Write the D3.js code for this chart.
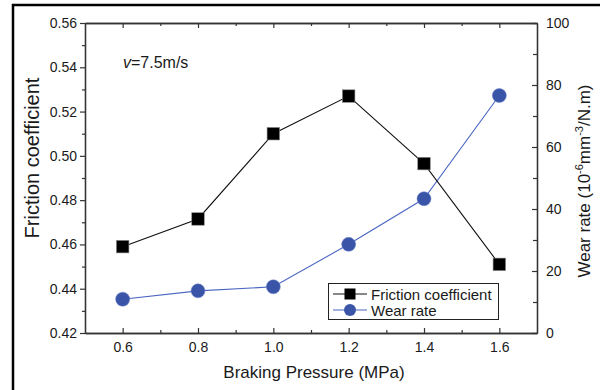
<!DOCTYPE html>
<html><head><meta charset="utf-8">
<script src="https://cdn.jsdelivr.net/npm/d3@7"></script>
<style>
html,body{margin:0;padding:0;background:#fff;}
svg{display:block;font-family:"Liberation Sans",Arial,sans-serif;}
</style></head>
<body>
<svg id="chart" width="600" height="390"></svg>
<script>
const pressure = [0.6, 0.8, 1.0, 1.2, 1.4, 1.6];
const friction = [0.459, 0.4715, 0.510, 0.527, 0.4965, 0.451];
const wearRate = [10.9, 13.6, 14.9, 28.6, 43.3, 76.6];
const xTicks = [0.6, 0.8, 1.0, 1.2, 1.4, 1.6];
const xMinor = [0.7, 0.9, 1.1, 1.3, 1.5];
const yLeftTicks = [0.42, 0.44, 0.46, 0.48, 0.50, 0.52, 0.54, 0.56];
const yLeftMinor = [0.43, 0.45, 0.47, 0.49, 0.51, 0.53, 0.55];
const yRightTicks = [0, 20, 40, 60, 80, 100];
const yRightMinor = [10, 30, 50, 70, 90];
const seriesNames = ["Friction coefficient", "Wear rate"];

const svg = d3.select("#chart");
const L = 85, R = 537, T = 23, B = 333;
const x = d3.scaleLinear().domain([0.5, 1.7]).range([L, R]);
const yL = d3.scaleLinear().domain([0.42, 0.56]).range([B, T]);
const yR = d3.scaleLinear().domain([0, 100]).range([B, T]);

const axisColor = "#333";
const labelColor = "#1a1a1a";

// outer frame lines
svg.append("line").attr("x1", 13).attr("x2", 13).attr("y1", 4).attr("y2", 390)
  .attr("stroke", "#000").attr("stroke-width", 2.5);
svg.append("line").attr("x1", 12).attr("x2", 600).attr("y1", 5).attr("y2", 5)
  .attr("stroke", "#000").attr("stroke-width", 2.5);

function styleAxis(g, fs) {
  g.selectAll(".domain").attr("stroke", axisColor).attr("stroke-width", 1.3);
  g.selectAll(".tick line").attr("stroke", axisColor).attr("stroke-width", 1.2);
  g.selectAll(".tick text").attr("fill", labelColor).style("font-size", fs + "px")
    .style("font-family", "Liberation Sans, Arial, sans-serif");
}

// bottom
const gB = svg.append("g").attr("transform", `translate(0,${B})`)
  .call(d3.axisBottom(x).tickValues(xTicks).tickFormat(d3.format(".1f")).tickSize(-5).tickSizeOuter(0).tickPadding(9));
styleAxis(gB, 14);
const gBm = svg.append("g").attr("transform", `translate(0,${B})`)
  .call(d3.axisBottom(x).tickValues(xMinor).tickFormat("").tickSize(-3).tickSizeOuter(0));
styleAxis(gBm, 14);
// top
const gT = svg.append("g").attr("transform", `translate(0,${T})`)
  .call(d3.axisTop(x).tickValues(xTicks).tickFormat("").tickSize(-5).tickSizeOuter(0));
styleAxis(gT, 14);
const gTm = svg.append("g").attr("transform", `translate(0,${T})`)
  .call(d3.axisTop(x).tickValues(xMinor).tickFormat("").tickSize(-3).tickSizeOuter(0));
styleAxis(gTm, 14);
// left (ticks outward)
const gL = svg.append("g").attr("transform", `translate(${L},0)`)
  .call(d3.axisLeft(yL).tickValues(yLeftTicks).tickFormat(d3.format(".2f")).tickSize(5).tickSizeOuter(0).tickPadding(3));
styleAxis(gL, 14);
const gLm = svg.append("g").attr("transform", `translate(${L},0)`)
  .call(d3.axisLeft(yL).tickValues(yLeftMinor).tickFormat("").tickSize(3).tickSizeOuter(0));
styleAxis(gLm, 14);
// right (ticks inward)
const gR = svg.append("g").attr("transform", `translate(${R},0)`)
  .call(d3.axisRight(yR).tickValues(yRightTicks).tickFormat(d3.format("d")).tickSize(-5).tickSizeOuter(0).tickPadding(9));
styleAxis(gR, 14);
const gRm = svg.append("g").attr("transform", `translate(${R},0)`)
  .call(d3.axisRight(yR).tickValues(yRightMinor).tickFormat("").tickSize(-4).tickSizeOuter(0));
styleAxis(gRm, 14);

// titles
svg.append("text").attr("x", (L + R) / 2 + 3).attr("y", 378).attr("text-anchor", "middle")
  .style("font-size", "17px").attr("fill", labelColor).text("Braking Pressure (MPa)");
svg.append("text").attr("transform", `translate(39,${(T + B) / 2 - 20}) rotate(-90)`).attr("text-anchor", "middle")
  .style("font-size", "20px").attr("fill", labelColor).text("Friction coefficient");
const rt = svg.append("text").attr("transform", `translate(590,${(T + B) / 2 + 3}) rotate(-90)`).attr("text-anchor", "middle")
  .style("font-size", "17px").attr("fill", labelColor);
rt.append("tspan").text("Wear rate (10");
rt.append("tspan").attr("dy", -7).style("font-size", "11px").text("-6");
rt.append("tspan").attr("dy", 7).text("mm");
rt.append("tspan").attr("dy", -7).style("font-size", "11px").text("-3");
rt.append("tspan").attr("dy", 7).text("/N.m)");

// annotation
const ann = svg.append("text").attr("x", 123).attr("y", 68).style("font-size", "16px").attr("fill", labelColor);
ann.append("tspan").style("font-style", "italic").text("v");
ann.append("tspan").text("=7.5m/s");

// series
const fData = pressure.map((p, i) => ({ p, v: friction[i] }));
const wData = pressure.map((p, i) => ({ p, v: wearRate[i] }));
const blackLine = "#111";
const blueLine = "#4a66c2";
const blueFill = "#3a55a8";

svg.append("path").datum(wData).attr("fill", "none").attr("stroke", blueLine).attr("stroke-width", 1.1)
  .attr("d", d3.line().x(d => x(d.p)).y(d => yR(d.v)));
svg.append("path").datum(fData).attr("fill", "none").attr("stroke", blackLine).attr("stroke-width", 1.1)
  .attr("d", d3.line().x(d => x(d.p)).y(d => yL(d.v)));

const sq = 12.5;
svg.selectAll(".sq").data(fData).join("rect").attr("class", "sq")
  .attr("x", d => x(d.p) - sq / 2).attr("y", d => yL(d.v) - sq / 2)
  .attr("width", sq).attr("height", sq).attr("fill", "#000").attr("stroke", "#888").attr("stroke-width", 0.6);
svg.selectAll(".ci").data(wData).join("circle").attr("class", "ci")
  .attr("cx", d => x(d.p)).attr("cy", d => yR(d.v)).attr("r", 7)
  .attr("fill", blueFill).attr("stroke", "#6a80c8").attr("stroke-width", 0.5);

// legend
const lg = svg.append("g");
lg.append("rect").attr("x", 328.5).attr("y", 283.5).attr("width", 170).attr("height", 36)
  .attr("fill", "#fff").attr("stroke", "#222").attr("stroke-width", 1);
const rows = [
  { name: seriesNames[0], y: 294, color: blackLine, type: "sq" },
  { name: seriesNames[1], y: 310, color: blueLine, type: "ci" }
];
rows.forEach(r => {
  lg.append("line").attr("x1", 333).attr("x2", 367).attr("y1", r.y).attr("y2", r.y)
    .attr("stroke", r.color).attr("stroke-width", 1.1);
  if (r.type === "sq") {
    lg.append("rect").attr("x", 350 - 5.5).attr("y", r.y - 5.5).attr("width", 11).attr("height", 11).attr("fill", "#000");
  } else {
    lg.append("circle").attr("cx", 350).attr("cy", r.y).attr("r", 6).attr("fill", blueFill);
  }
  lg.append("text").attr("x", 371).attr("y", r.y + 5.5).style("font-size", "15px").attr("fill", labelColor).text(r.name);
});
</script>
</body></html>
